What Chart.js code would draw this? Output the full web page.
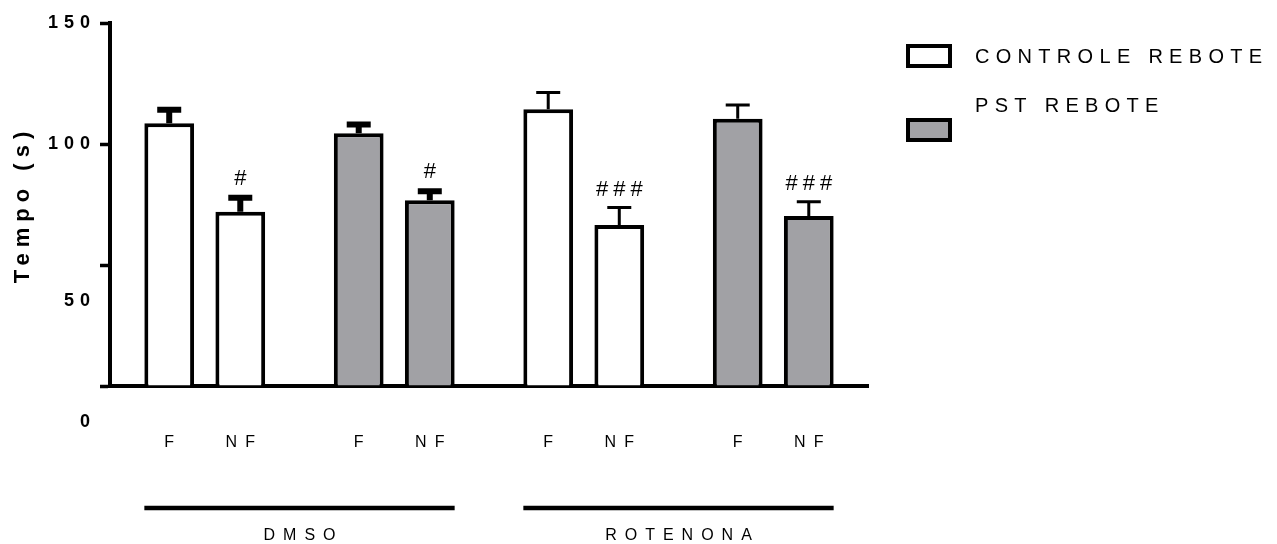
<!DOCTYPE html>
<html>
<head>
<meta charset="utf-8">
<title>Tempo (s)</title>
<script src="https://cdn.jsdelivr.net/npm/chart.js@4.4.1/dist/chart.umd.min.js"></script>
<style>
  html, body { margin: 0; padding: 0; background: #ffffff; }
  canvas { display: block; }
</style>
</head>
<body>
<canvas id="chart" width="1277" height="544"></canvas>
<script>
// ---- data -------------------------------------------------------------
const GROUPS = ['DMSO', 'ROTENONA'];
const SERIES = ['CONTROLE REBOTE', 'PST REBOTE'];
const CONDITIONS = ['F', 'NF'];

// one value per group x series, in the order DMSO/controle, DMSO/PST, rotenona/controle, rotenona/PST
const F_MEAN  = [108.6, 104.4, 114.4, 110.4];
const F_SEM   = [5.6, 3.7, 6.9, 5.7];
const NF_MEAN = [72.0, 76.8, 66.5, 70.2];
const NF_SEM  = [5.8, 3.7, 7.3, 5.9];
const NF_MARKS = ['#', '#', '###', '###'];

const Y_TICKS = [0, 50, 100, 150];
const Y_TITLE = 'Tempo (s)';

// ---- styling ------------------------------------------------------------
const FONT = '"Liberation Sans", Arial, Helvetica, sans-serif';
const INK = '#000000';
const SERIES_FILL = ['#ffffff', '#a1a1a5'];

const categories = GROUPS.flatMap(g => SERIES.map(s => g + ' / ' + s));
const seriesOf = i => i % SERIES.length;
const groupOf = i => Math.floor(i / SERIES.length);
const fills = categories.map((_, i) => SERIES_FILL[seriesOf(i)]);
// whiskers of the first group are drawn heavier
const whiskerWidth = categories.map((_, i) => groupOf(i) === 0 ? 6 : 3);

Chart.defaults.font.family = FONT;
Chart.defaults.color = INK;

// draw text with its own tracking, compensating the trailing gap canvas adds
function trackedText(ctx, str, x, y, spacing, align) {
  ctx.letterSpacing = spacing + 'px';
  ctx.textAlign = align;
  const shift = align === 'center' ? spacing / 2 : (align === 'right' ? spacing : 0);
  ctx.fillText(str, x + shift, y);
}

// wide tracking for the text the axes draw
const tracking = {
  id: 'tracking',
  beforeUpdate(chart, args, opts) { chart.ctx.letterSpacing = opts.spacing + 'px'; },
  beforeDraw(chart, args, opts) { chart.ctx.letterSpacing = opts.spacing + 'px'; }
};

// SEM whiskers (upper half) and significance marks above the bars
const whiskers = {
  id: 'whiskers',
  afterDatasetsDraw(chart, args, opts) {
    const { ctx } = chart;
    const y = chart.scales.y;
    chart.data.datasets.forEach((ds, di) => {
      const meta = chart.getDatasetMeta(di);
      meta.data.forEach((bar, i) => {
        const top = y.getPixelForValue(ds.data[i] + ds.sem[i]);
        const lw = opts.widths[i];
        ctx.save();
        ctx.strokeStyle = INK;
        ctx.lineWidth = lw;
        ctx.lineCap = 'butt';
        ctx.beginPath();
        ctx.moveTo(bar.x, bar.y);
        ctx.lineTo(bar.x, top);
        ctx.moveTo(bar.x - opts.cap / 2, top);
        ctx.lineTo(bar.x + opts.cap / 2, top);
        ctx.stroke();
        const mark = ds.marks && ds.marks[i];
        if (mark) {
          ctx.fillStyle = INK;
          ctx.font = '22px ' + FONT;
          ctx.textBaseline = 'alphabetic';
          trackedText(ctx, mark, bar.x, top - lw / 2 - 10, 5, 'center');
        }
        ctx.restore();
      });
    });
  }
};

// condition labels under each bar, group brackets, and the series key
const annotations = {
  id: 'annotations',
  afterDraw(chart) {
    const { ctx, chartArea } = chart;
    const base = chartArea.bottom;
    const metas = chart.data.datasets.map((_, di) => chart.getDatasetMeta(di));
    ctx.save();
    ctx.fillStyle = INK;
    ctx.textBaseline = 'middle';

    // F / NF under every bar
    ctx.font = '16px ' + FONT;
    metas.forEach((meta, di) => {
      meta.data.forEach(bar => trackedText(ctx, CONDITIONS[di], bar.x, base + 57, 8, 'center'));
    });

    // bracket line and name under each group
    GROUPS.forEach((name, g) => {
      const first = metas[0].data[g * SERIES.length];
      const last = metas[metas.length - 1].data[g * SERIES.length + SERIES.length - 1];
      const x0 = first.x - first.width / 2;
      const x1 = last.x + last.width / 2;
      ctx.strokeStyle = INK;
      ctx.lineWidth = 4.5;
      ctx.beginPath();
      ctx.moveTo(x0, base + 122);
      ctx.lineTo(x1, base + 122);
      ctx.stroke();
      trackedText(ctx, name, (x0 + x1) / 2, base + 150, 8, 'center');
    });

    // series key to the right of the plot
    const keyX = chartArea.right + 38;
    const rows = [{ text: 57, box: 44 }, { text: 106, box: 118 }];
    ctx.font = '20px ' + FONT;
    SERIES.forEach((name, s) => {
      const r = rows[s];
      ctx.fillStyle = SERIES_FILL[s];
      ctx.fillRect(keyX, r.box, 46, 24);
      ctx.strokeStyle = INK;
      ctx.lineWidth = 4;
      ctx.strokeRect(keyX + 2, r.box + 2, 42, 20);
      ctx.fillStyle = INK;
      trackedText(ctx, name, keyX + 69, r.text, 6.3, 'left');
    });
    ctx.restore();
  }
};

const barStyle = {
  backgroundColor: fills,
  borderColor: INK,
  borderWidth: 4,
  borderSkipped: 'start',
  categoryPercentage: 0.75,
  barPercentage: 0.7
};

new Chart(document.getElementById('chart'), {
  type: 'bar',
  data: {
    labels: categories,
    datasets: [
      Object.assign({ label: CONDITIONS[0], data: F_MEAN, sem: F_SEM, marks: [] }, barStyle),
      Object.assign({ label: CONDITIONS[1], data: NF_MEAN, sem: NF_SEM, marks: NF_MARKS }, barStyle)
    ]
  },
  options: {
    responsive: false,
    animation: false,
    devicePixelRatio: 1,
    layout: { padding: { top: 23, right: 409, bottom: 0, left: 0 } },
    plugins: {
      legend: { display: false },
      tooltip: { enabled: false },
      tracking: { spacing: 6 },
      whiskers: { widths: whiskerWidth, cap: 24 }
    },
    scales: {
      x: {
        ticks: { display: false },
        grid: { display: false },
        border: { display: true, width: 4, color: INK },
        afterFit: s => { s.height = 158; }
      },
      y: {
        min: 0,
        max: 150,
        afterBuildTicks: s => { s.ticks = Y_TICKS.map(v => ({ value: v })); },
        ticks: {
          color: INK,
          padding: 4,
          font: { family: FONT, size: 18, weight: 'bold', lineHeight: 2 },
          // the two lower values are printed one step below their tick marks
          callback: v => v >= 100 ? String(v) : ['', '', String(v)]
        },
        grid: { display: true, drawOnChartArea: false, tickLength: 10, tickWidth: 3.5, tickColor: INK, color: INK },
        border: { display: true, width: 4, color: INK },
        title: {
          display: true,
          text: Y_TITLE,
          color: INK,
          font: { family: FONT, size: 22, weight: 'bold' },
          padding: { top: 10, bottom: 0 }
        },
        afterFit: s => { s.width = 110; }
      }
    }
  },
  plugins: [tracking, whiskers, annotations]
});
</script>
</body>
</html>
